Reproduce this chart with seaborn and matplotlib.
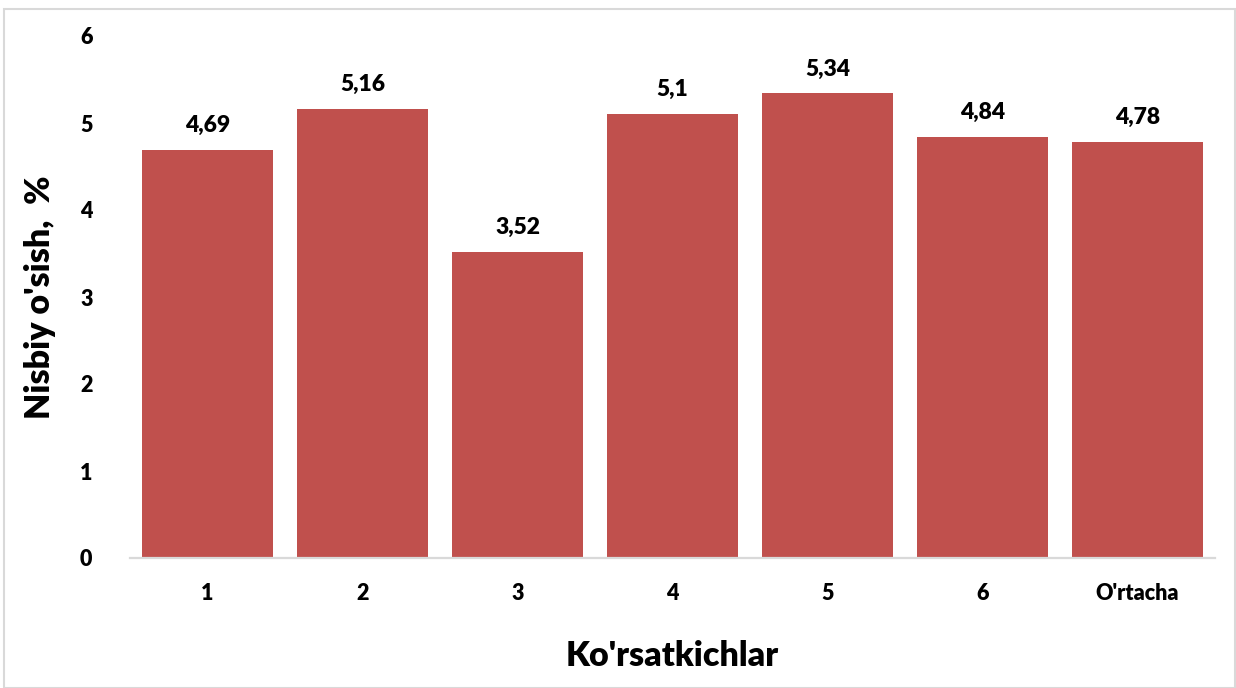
import matplotlib
matplotlib.use("Agg")
import matplotlib.pyplot as plt
from matplotlib.patches import Rectangle
import seaborn as sns
import pandas as pd

categories = ["1", "2", "3", "4", "5", "6", "O'rtacha"]
values = [4.69, 5.16, 3.52, 5.10, 5.34, 4.84, 4.78]
value_labels = ["4,69", "5,16", "3,52", "5,1", "5,34", "4,84", "4,78"]
y_ticks = [0, 1, 2, 3, 4, 5, 6]

sns.set_style("white")
plt.rcParams["font.family"] = ["Lato", "DejaVu Sans"]
plt.rcParams["font.weight"] = "bold"
plt.rcParams["text.color"] = "black"
plt.rcParams["axes.labelcolor"] = "black"
plt.rcParams["xtick.color"] = "black"
plt.rcParams["ytick.color"] = "black"

df = pd.DataFrame({"cat": categories, "val": values})

fig = plt.figure(figsize=(12.36, 6.88), dpi=100)
ax = fig.add_axes([130 / 1236, 130 / 688, (1215 - 130) / 1236, (558 - 36) / 688])

sns.barplot(data=df, x="cat", y="val", color="#C0504D", saturation=1,
            width=0.84, ax=ax, edgecolor="none")

ax.set_xlim(-0.5, 6.5)
ax.set_ylim(0, 6)
ax.set_yticks(y_ticks)
ax.set_yticklabels([str(t) for t in y_ticks], fontsize=15.5, fontweight="heavy")
ax.tick_params(axis="y", length=0, pad=27)
ax.tick_params(axis="x", length=0, pad=18, labelsize=15.5)
for lab in ax.get_xticklabels():
    lab.set_fontweight("heavy")

for side in ["top", "right", "left"]:
    ax.spines[side].set_visible(False)
ax.spines["bottom"].set_color("#D9D9D9")
ax.spines["bottom"].set_linewidth(1.6)

for i, (v, txt) in enumerate(zip(values, value_labels)):
    ax.text(i, v + 0.16, txt, ha="center", va="bottom",
            fontsize=16.5, fontweight="heavy", color="black")

ax.set_xlabel("Ko'rsatkichlar", fontsize=24.5, fontweight="heavy", labelpad=26)
ax.set_ylabel("Nisbiy o'sish,  %", fontsize=24.5, fontweight="heavy", labelpad=17)

fig.patches.append(Rectangle((4 / 1236, 0), 1231 / 1236, (688 - 9) / 688,
                             transform=fig.transFigure, fill=False,
                             edgecolor="#D9D9D9", linewidth=1.5))

fig.savefig("out.png", dpi=100, facecolor="white")
